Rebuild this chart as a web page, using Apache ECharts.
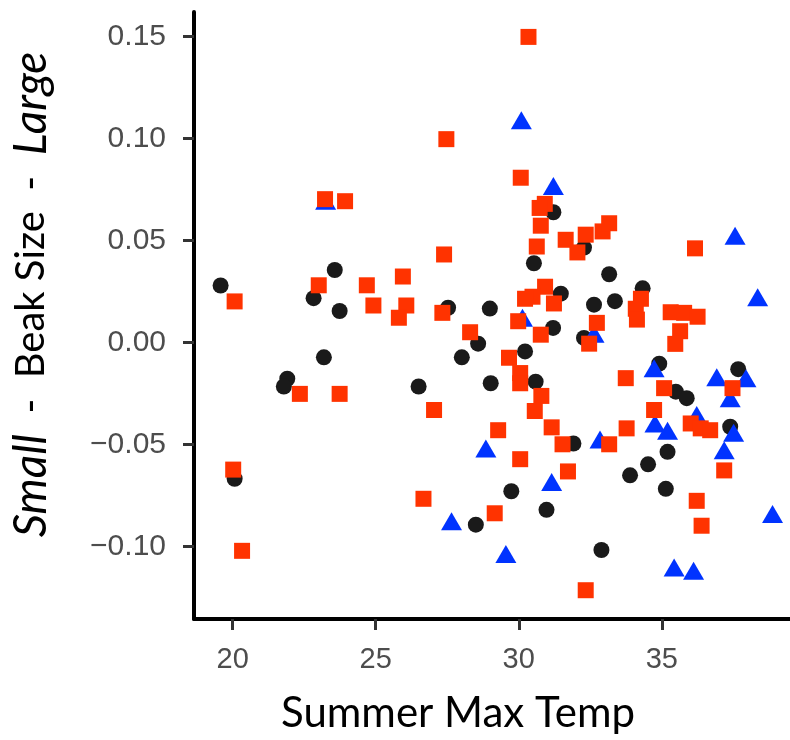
<!DOCTYPE html>
<html>
<head>
<meta charset="utf-8">
<script src="https://cdn.jsdelivr.net/npm/echarts@6/dist/echarts.min.js"></script>
<style type="text/css">
    html, body { margin: 0; padding: 0; background: #fff; }
    #chart { width: 790px; height: 740px; }
</style>
</head>
<body>
<div id="chart"></div>
<script>
    // x = summer max temp, y = beak size residual
    var blackPts = [
        [19.58, 0.028], [23.57, 0.0356], [22.83, 0.0218], [23.74, 0.0155], [27.53, 0.0171],
        [28.99, 0.0167], [28.58, -0.0005], [23.19, -0.0072], [28.01, -0.0072], [21.91, -0.0177],
        [21.79, -0.0215], [26.50, -0.0215], [29.02, -0.0199], [20.07, -0.0667], [28.50, -0.0892],
        [31.21, 0.0639], [32.28, 0.0466], [30.53, 0.0389], [33.16, 0.0335], [34.33, 0.0266],
        [31.47, 0.024], [32.63, 0.0186], [33.36, 0.0203], [31.20, 0.0072], [32.28, 0.0023],
        [30.22, -0.0043], [30.59, -0.0191], [31.91, -0.0494], [29.74, -0.0728], [30.97, -0.0819],
        [32.89, -0.1016], [34.91, -0.0103], [35.49, -0.024], [35.87, -0.0272], [35.20, -0.0535],
        [34.52, -0.0596], [33.89, -0.065], [35.14, -0.0716], [37.67, -0.013], [37.39, -0.0412]
    ];
    var redPts = [
        [27.47, 0.0997], [23.23, 0.0703], [23.93, 0.0693], [27.39, 0.0432], [23.01, 0.0281],
        [24.69, 0.0281], [25.95, 0.0324], [20.07, 0.0202], [24.92, 0.0182], [26.07, 0.0182],
        [25.81, 0.0122], [27.33, 0.0146], [28.30, 0.0051], [22.35, -0.0251], [23.74, -0.0251],
        [27.04, -0.033], [20.02, -0.0622], [26.67, -0.0765], [20.33, -0.102], [30.34, 0.1498],
        [30.07, 0.0808], [30.91, 0.068], [30.73, 0.066], [30.77, 0.0573], [30.63, 0.0471],
        [31.64, 0.0504], [32.34, 0.0529], [32.05, 0.0442], [32.93, 0.0545], [33.16, 0.0585],
        [36.16, 0.0462], [34.27, 0.0215], [34.09, 0.0166], [34.13, 0.0113], [30.92, 0.0274],
        [30.48, 0.0225], [30.22, 0.0215], [31.23, 0.0192], [35.31, 0.0149], [35.78, 0.0146],
        [36.25, 0.0127], [29.98, 0.0105], [30.77, 0.0039], [32.73, 0.0097], [32.46, -0.0005],
        [35.64, 0.0056], [35.47, -0.0006], [29.66, -0.0074], [30.05, -0.0149], [30.05, -0.0199],
        [30.79, -0.0261], [30.56, -0.0335], [31.15, -0.0415], [31.53, -0.0498], [33.16, -0.0498],
        [29.28, -0.0429], [30.05, -0.0571], [31.72, -0.0631], [29.16, -0.0836], [32.34, -0.1213],
        [33.74, -0.0174], [33.77, -0.042], [35.08, -0.0223], [34.73, -0.033], [36.01, -0.0396],
        [36.36, -0.042], [36.69, -0.0429], [36.22, -0.0775], [36.39, -0.0897], [37.47, -0.0223],
        [37.18, -0.0626]
    ];
    var bluePts = [
        [23.25, 0.0695], [30.09, 0.109], [31.21, 0.0767], [37.56, 0.0524], [38.35, 0.0223],
        [30.13, 0.0122], [32.63, 0.0044], [28.85, -0.0519], [27.65, -0.0875], [31.15, -0.0683],
        [32.84, -0.0474], [29.55, -0.1036], [34.73, -0.0125], [34.76, -0.0396], [35.20, -0.0432],
        [36.22, -0.0355], [35.43, -0.1102], [36.11, -0.1118], [38.87, -0.0839], [36.92, -0.0169],
        [37.94, -0.0174], [37.39, -0.0272], [37.51, -0.0442], [37.18, -0.0527]
    ];
    var xTicks = [20, 25, 30, 35];
    var yTicks = [-0.10, -0.05, 0.00, 0.05, 0.10, 0.15];

    var tickFont = 'Liberation Sans';
    var titleFont = 'Lato';

    function fmtY(v) {
        var s = Math.abs(v).toFixed(2);
        return v < -1e-9 ? '\u2212' + s : s;
    }

    var chart = echarts.init(document.getElementById('chart'));
    var option = {
        animation: false,
        backgroundColor: '#ffffff',
        grid: { left: 193, right: 0, top: 12, bottom: 121 },
        xAxis: {
            type: 'value',
            min: 18.65,
            max: 39.48,
            name: 'Summer Max Temp',
            nameLocation: 'middle',
            nameGap: 73,
            nameTextStyle: {
                fontFamily: titleFont, fontSize: 42, color: '#000',
                padding: [0, 68, 0, 0]
            },
            axisLine: { show: true, onZero: false, lineStyle: { color: '#000', width: 4 } },
            axisTick: { show: true, customValues: xTicks, length: 11, lineStyle: { color: '#333', width: 3 } },
            axisLabel: {
                customValues: xTicks, margin: 26,
                fontFamily: tickFont, fontSize: 29, color: '#4d4d4d'
            },
            splitLine: { show: false }
        },
        yAxis: {
            type: 'value',
            min: -0.1354,
            max: 0.162,
            name: '{i|Small}  -  Beak Size  -  {i|Large}',
            nameLocation: 'middle',
            nameRotate: 90,
            nameGap: 140,
            nameTextStyle: {
                fontFamily: titleFont, fontSize: 40, color: '#000',
                padding: [0, 0, 0, 42],
                rich: { i: { fontFamily: titleFont, fontSize: 46, fontStyle: 'italic', color: '#000' } }
            },
            axisLine: { show: true, onZero: false, lineStyle: { color: '#000', width: 4 } },
            axisTick: { show: true, customValues: yTicks, length: 11, lineStyle: { color: '#333', width: 3 } },
            axisLabel: {
                customValues: yTicks, margin: 28, formatter: fmtY,
                fontFamily: tickFont, fontSize: 30, color: '#4d4d4d'
            },
            splitLine: { show: false }
        },
        series: [
            {
                type: 'scatter', data: blackPts, symbol: 'circle', symbolSize: 16,
                itemStyle: { color: '#1a1a1a', opacity: 1 }
            },
            {
                type: 'scatter', data: bluePts, symbol: 'triangle', symbolSize: [21, 18],
                itemStyle: { color: '#0033ff', opacity: 1 }
            },
            {
                type: 'scatter', data: redPts, symbol: 'rect', symbolSize: 16,
                itemStyle: { color: '#ff3300', opacity: 1 }
            }
        ]
    };
    chart.setOption(option);
</script>
</body>
</html>
